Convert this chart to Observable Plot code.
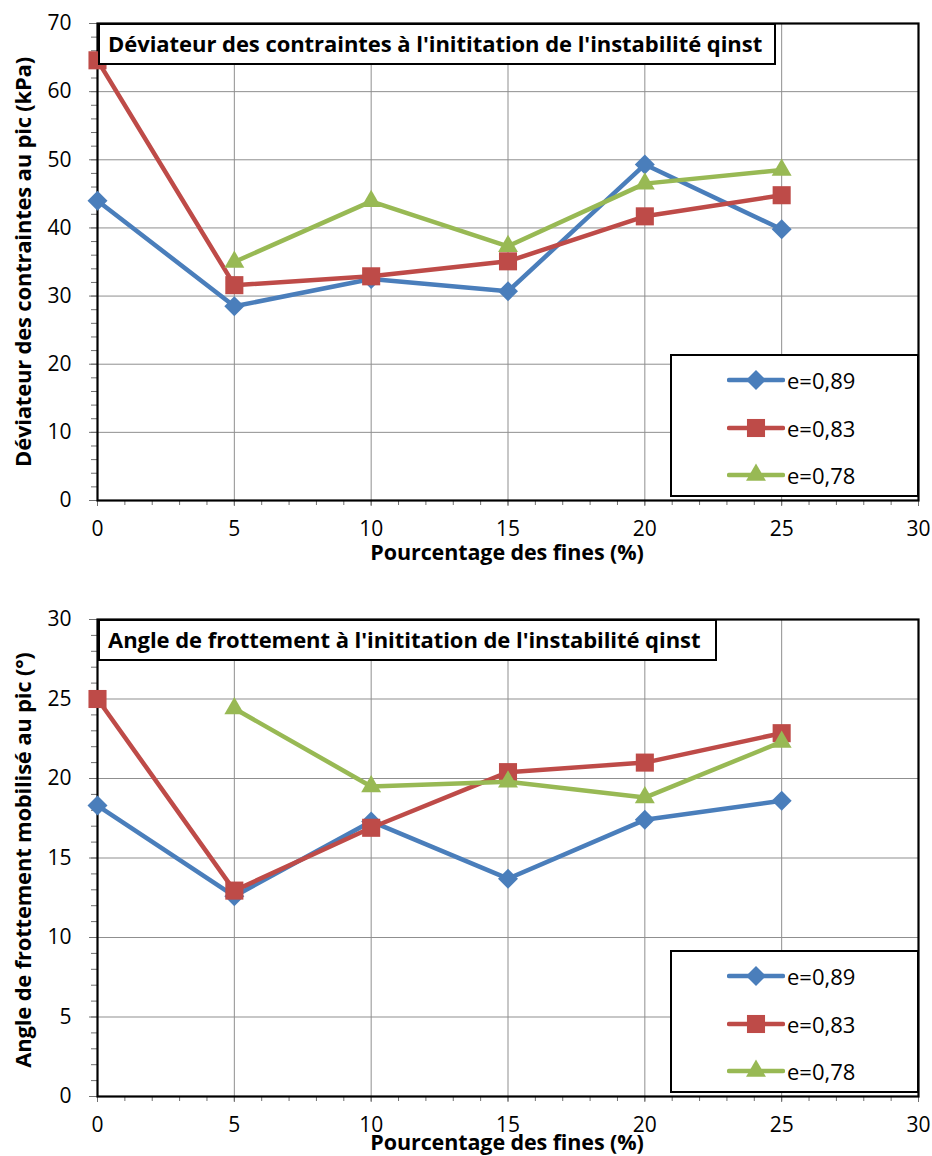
<!DOCTYPE html>
<html>
<head>
<meta charset="utf-8">
<script src="https://cdn.jsdelivr.net/npm/d3@7"></script>
<script src="https://cdn.jsdelivr.net/npm/@observablehq/plot@0.6"></script>
<style>
  body { margin: 0; background: white; }
  #wrap { position: relative; width: 932px; height: 1156px; font-family: 'Open Sans', sans-serif; color: black; }
  .chart { position: absolute; left: 0; }
  .titlebox { position: absolute; border: 2px solid black; background: white; box-sizing: border-box;
    font-weight: bold; font-size: 22px; line-height: 37px; padding-left: 8px; white-space: nowrap; letter-spacing: -0.05px; }
  .legend { position: absolute; border: 2px solid black; background: white; box-sizing: border-box; }
  .legrow { position: absolute; left: 55px; height: 24px; display: flex; align-items: center; font-size: 22px; }
  .legrow svg { margin-right: 2px; }
  .ylab { position: absolute; font-weight: bold; font-size: 22px; white-space: nowrap; letter-spacing: -0.2px;
    transform: translate(-50%, -50%) rotate(-90deg); }
  .xlab { position: absolute; font-weight: bold; font-size: 21.5px; white-space: nowrap; letter-spacing: -0.1px; transform: translate(-50%, -50%); }
</style>
</head>
<body>
<div id="wrap"></div>
<script>
// ---- data ----
const fines = [0, 5, 10, 15, 20, 25];
const seriesNames = ["e=0,89", "e=0,83", "e=0,78"];
const seriesColors = ["#4A7EBB", "#BE4B48", "#98B954"];
const seriesSymbols = ["diamond2", "square", "triangle"];

// Chart 1: Déviateur des contraintes au pic (kPa)
const dev089 = [44.0, 28.5, 32.5, 30.7, 49.3, 39.8];
const dev083 = [64.6, 31.6, 32.9, 35.1, 41.7, 44.8];
const dev078 = [null, 35.0, 43.9, 37.3, 46.5, 48.5];

// Chart 2: Angle de frottement mobilisé au pic (°)
const ang089 = [18.3, 12.6, 17.3, 13.7, 17.4, 18.6];
const ang083 = [25.0, 12.95, 16.9, 20.4, 21.0, 22.85];
const ang078 = [null, 24.4, 19.5, 19.8, 18.8, 22.3];

const xTicks = [0, 5, 10, 15, 20, 25, 30];
const xMinor = d3.range(0, 31, 1);
const devTicks = [0, 10, 20, 30, 40, 50, 60, 70];
const devMinor = d3.range(0, 71, 2);
const angTicks = [0, 5, 10, 15, 20, 25, 30];
const angMinor = d3.range(0, 31, 1);

const titles = [
  "Déviateur des contraintes à l'inititation de l'instabilité qinst",
  "Angle de frottement à l'inititation de l'instabilité qinst"
];
const yLabels = ["Déviateur des contraintes au pic (kPa)", "Angle de frottement mobilisé au pic (°)"];
const xLabel = "Pourcentage des fines (%)";

function rows(vals) {
  return vals.map((s, i) => fines.map((f, j) => ({x: f, y: s[j], k: i}))).flat().filter(d => d.y != null);
}

const sizes = [9, 10.2, 7.4];

function makeChart(vals, ymax, yTicks, yMinor, height, mt, mb) {
  const data = rows(vals);
  const marks = [
    Plot.gridX([5, 10, 15, 20, 25], {stroke: "#8f8f8f", strokeOpacity: 1, strokeWidth: 1}),
    Plot.gridY(yTicks.filter(t => t > 0 && t < ymax), {stroke: "#8f8f8f", strokeOpacity: 1, strokeWidth: 1}),
    Plot.axisX(xMinor, {tickSize: 5, tickFormat: () => "", stroke: "#707070", label: null}),
    Plot.axisX(xTicks, {tickSize: 6, tickPadding: 15, fontSize: 21, stroke: "#707070", fill: "black", label: null}),
    Plot.axisY(yMinor, {tickSize: 6, tickFormat: () => "", stroke: "#707070", label: null}),
    Plot.axisY(yTicks, {tickSize: 8, tickPadding: 18, fontSize: 21, stroke: "#707070", fill: "black", label: null}),
    Plot.frame({stroke: "black", strokeWidth: 2.2})
  ];
  for (let k = 0; k < 3; k++) {
    const d = data.filter(r => r.k === k);
    marks.push(Plot.line(d, {x: "x", y: "y", stroke: seriesColors[k], strokeWidth: 4.5, strokeLinejoin: "round"}));
    marks.push(Plot.dot(d, {x: "x", y: "y", symbol: seriesSymbols[k], fill: seriesColors[k], r: sizes[k], stroke: "none"}));
  }
  return Plot.plot({
    width: 932, height,
    marginLeft: 97, marginRight: 14, marginTop: mt, marginBottom: mb,
    x: {domain: [0, 30]},
    y: {domain: [0, ymax]},
    style: {fontFamily: "'Open Sans', sans-serif", background: "white", overflow: "visible"},
    marks
  });
}

const wrap = document.getElementById("wrap");

function legendBox(left, top) {
  const box = document.createElement("div");
  box.className = "legend";
  Object.assign(box.style, {left: left + "px", top: top + "px", width: "249px", height: "143px"});
  const rowTops = [12, 60, 107];
  seriesNames.forEach((name, k) => {
    const row = document.createElement("div");
    row.className = "legrow";
    row.style.top = rowTops[k] + "px";
    const sym = d3.symbol(d3[{diamond2: "symbolDiamond2", square: "symbolSquare", triangle: "symbolTriangle"}[seriesSymbols[k]]], Math.PI * sizes[k] * sizes[k])();
    row.innerHTML = `<svg width="58" height="24" viewBox="0 0 58 24"><line x1="2" x2="56" y1="12" y2="12" stroke="${seriesColors[k]}" stroke-width="4.5" stroke-linecap="round"/><path transform="translate(29,12)" d="${sym}" fill="${seriesColors[k]}"/></svg><span>${name}</span>`;
    box.appendChild(row);
  });
  wrap.appendChild(box);
}

function addText(cls, text, x, y, extra) {
  const el = document.createElement("div");
  el.className = cls;
  el.textContent = text;
  Object.assign(el.style, {left: x + "px", top: y + "px"}, extra || {});
  wrap.appendChild(el);
}

// Chart 1
const c1 = document.createElement("div");
c1.className = "chart"; c1.style.top = "0px";
c1.appendChild(makeChart([dev089, dev083, dev078], 70, devTicks, devMinor, 580, 23, 80));
wrap.appendChild(c1);

// Chart 2
const c2 = document.createElement("div");
c2.className = "chart"; c2.style.top = "580px";
c2.appendChild(makeChart([ang089, ang083, ang078], 30, angTicks, angMinor, 576, 39, 60));
wrap.appendChild(c2);

// Titles
addText("titlebox", titles[0], 98, 23, {width: "678px", height: "42px"});
addText("titlebox", titles[1], 98, 619, {width: "619px", height: "42px"});

// Axis labels
addText("ylab", yLabels[0], 22, 262);
addText("ylab", yLabels[1], 22, 860);
addText("xlab", xLabel, 507, 551);
addText("xlab", xLabel, 507, 1141);

// Legends
legendBox(670, 354);
legendBox(670, 950);
</script>
</body>
</html>
